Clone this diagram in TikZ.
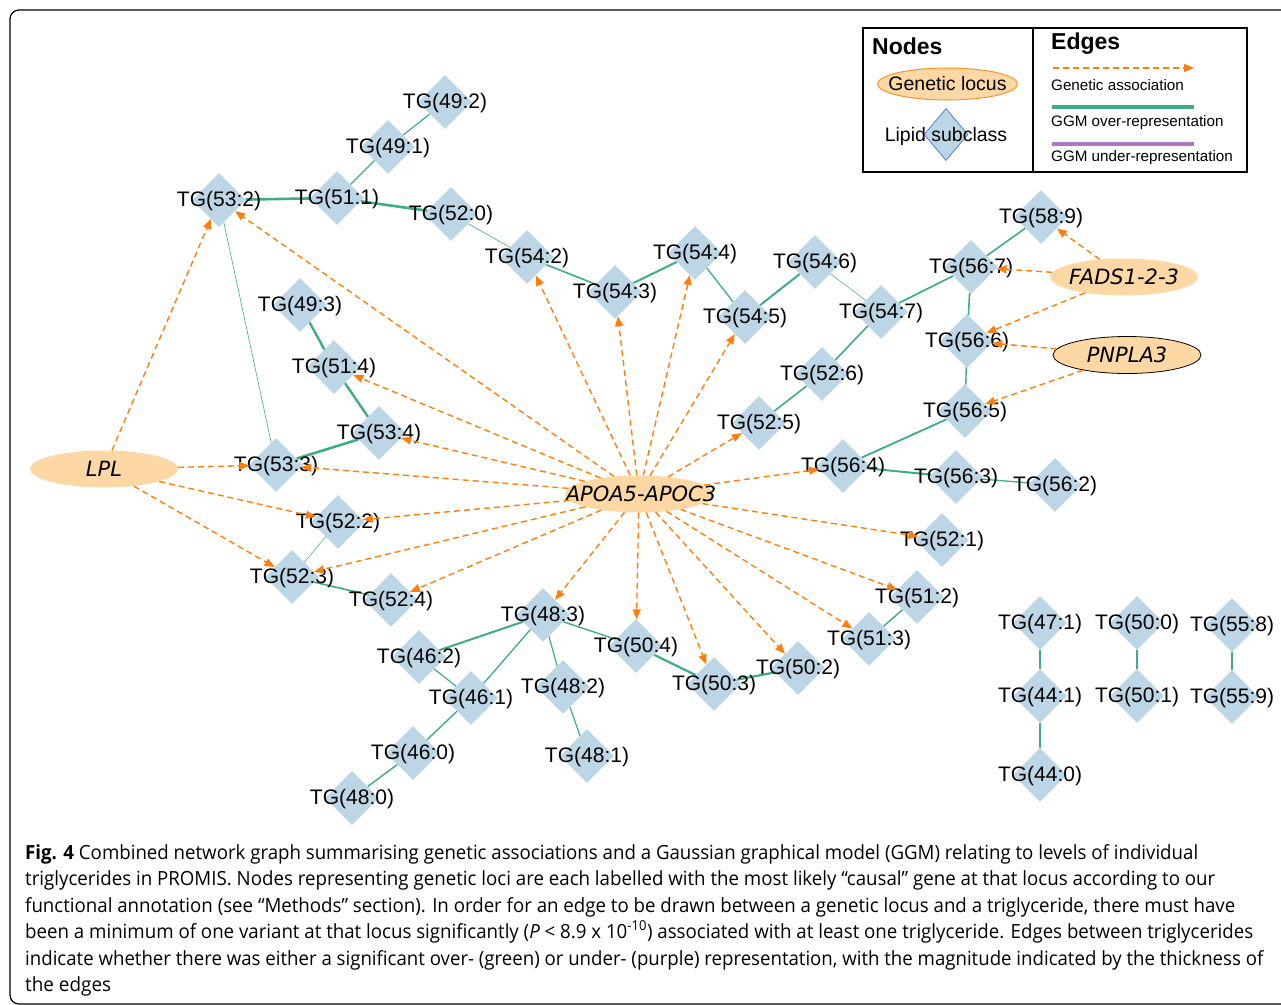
\documentclass[tikz,border=0pt]{standalone}
\usepackage{fontspec}
\usepackage{graphicx}
\setmainfont{Liberation Sans}
\newfontfamily\locfont{DejaVu Sans}
\newfontfamily\capfont{Open Sans}
\usetikzlibrary{shapes.geometric,arrows.meta}
\definecolor{tgblue}{RGB}{189,214,230}
\definecolor{locorange}{RGB}{253,216,165}
\definecolor{assocorange}{RGB}{255,127,14}
\definecolor{ggmgreen}{RGB}{64,171,135}
\definecolor{ggmpurple}{RGB}{175,120,190}
\definecolor{legendblue}{RGB}{80,130,210}
\definecolor{legorange}{RGB}{245,150,50}
\tikzset{
  tg/.style={shape=diamond, fill=tgblue, minimum width=54pt, minimum height=54pt, inner sep=0pt, draw=none},
  tglbl/.style={font=\fontsize{21}{21}\selectfont, inner sep=0pt, yshift=-1.5pt},
  locus/.style={ellipse, fill=locorange, minimum width=148pt, minimum height=37pt, inner sep=0pt},
  loclbl/.style={font=\locfont\itshape\fontsize{21}{21}\selectfont, inner sep=0pt},
  assoc/.style={draw=assocorange, line width=1.4pt, dash pattern=on 6pt off 4pt, -{Triangle[length=10pt,width=8pt]}},
  ggm/.style={draw=ggmgreen},
  captxt/.style={font=\capfont\fontsize{19.5}{19.5}\selectfont, inner sep=0pt, anchor=base west},
  legtxt/.style={font=\fontsize{15.2}{15.2}\selectfont, inner sep=0pt, anchor=west},
  leghead/.style={font=\bfseries\fontsize{23}{23}\selectfont, inner sep=0pt, anchor=west}
}
\begin{document}
\begin{tikzpicture}[x=1pt,y=-1pt]
\useasboundingbox (0,0) rectangle (1281,1004);
\draw[line width=1.2pt, rounded corners=9pt] (10,10) rectangle (1300,1004);

% lipid nodes
\foreach \n/\x/\y in {492/445/102, 491/388/147, 511/337/198, 532/219/200, 520/451/214,
  542/527/257, 543/615/292, 544/695/253, 545/745/317, 546/815/262, 547/881/312,
  567/971/267, 589/1041/217, 566/967/341, 565/965/411, 526/822/374, 525/759/423,
  564/843/466, 563/956/477, 562/1055/485, 521/942/540, 512/917/597, 513/869/639,
  502/798/668, 503/714/684, 504/636/646, 483/543/615, 482/563/687, 481/587/756,
  462/419/657, 461/471/698, 460/413/753, 480/352/798, 524/391/600, 523/292/577,
  522/338/522, 533/276/465, 534/379/433, 514/334/367, 493/300/305,
  471/1040/623, 441/1040/696, 440/1040/775, 500/1137/623, 501/1137/696,
  558/1232/625, 559/1232/697}
  {\node[tg] (t\n) at (\x,\y) {};}

% genetic loci
\node[locus] (lpl) at (104,469) {};
\node[locus] (apo) at (639,494) {};
\node[locus] (fads) at (1124,277) {};
\node[locus, draw=black, line width=0.8pt] (pnp) at (1127,355) {};

% GGM edges
\foreach \a/\b/\w in {492/491/1.2, 491/511/1.4, 511/532/2.6, 511/520/2.6, 520/542/0.6,
  542/543/1.6, 543/544/2.0, 544/545/1.3, 545/546/2.0, 546/547/0.5, 547/567/1.6,
  567/589/1.6, 567/566/1.6, 566/565/1.4, 565/564/1.8, 564/563/2.0, 563/562/1.3,
  547/526/1.6, 526/525/1.6, 532/533/0.6, 493/514/2.4, 514/534/2.4, 534/533/2.6,
  522/523/0.5, 523/524/1.6, 483/462/2.0, 483/461/1.3, 483/482/1.2, 483/504/1.4,
  462/461/1.2, 461/460/1.4, 460/480/1.4, 482/481/1.2, 504/503/2.2, 503/502/2.2,
  512/513/1.4, 471/441/2.2, 441/440/2.2, 500/501/1.6, 558/559/2.6}
  {\draw[ggm, line width=\w pt] (t\a) -- (t\b);}

% labels
\foreach \n/\t in {492/49:2, 491/49:1, 511/51:1, 532/53:2, 520/52:0, 542/54:2, 543/54:3,
  544/54:4, 545/54:5, 546/54:6, 547/54:7, 567/56:7, 589/58:9, 566/56:6, 565/56:5,
  526/52:6, 525/52:5, 564/56:4, 563/56:3, 562/56:2, 521/52:1, 512/51:2, 513/51:3,
  502/50:2, 503/50:3, 504/50:4, 483/48:3, 482/48:2, 481/48:1, 462/46:2, 461/46:1,
  460/46:0, 480/48:0, 524/52:4, 523/52:3, 522/52:2, 533/53:3, 534/53:4, 514/51:4,
  493/49:3, 471/47:1, 441/44:1, 440/44:0, 500/50:0, 501/50:1, 558/55:8, 559/55:9}
  {\node[tglbl] (l\n) at (t\n) {TG(\t)};}

\node[loclbl] (lplT) at (lpl) {LPL};
\node[loclbl] (apoT) at (641,494) {APOA5-APOC3};
\node[loclbl] (fadsT) at (fads) {FADS1-2-3};
\node[loclbl] (pnpT) at (pnp) {PNPLA3};

% genetic associations
\foreach \b in {532,533,522,523} {\draw[assoc] (lpl) -- (t\b);}
\foreach \b in {532,514,534,533,522,523,524,483,504,503,502,513,512,521,564,525,545,544,543,542}
  {\draw[assoc] (apo) -- (t\b);}
\foreach \b in {589,567,566} {\draw[assoc] (fads) -- (t\b);}
\foreach \b in {566,565} {\draw[assoc] (pnp) -- (t\b);}

% legend
\draw[line width=1.2pt] (863,28) rectangle (1247,172);
\draw[line width=1.2pt] (1033,28) -- (1033,172);
\node[leghead] (nodesT) at (872,46) {Nodes};
\node[locus, draw=legorange, line width=1pt, minimum width=140pt, minimum height=32pt] (legloc) at (947.5,84) {};
\node[font=\fontsize{19.5}{19.5}\selectfont, inner sep=0pt] (leglocT) at (legloc) {Genetic locus};
\node[shape=diamond, fill=tgblue, draw=legendblue, line width=0.8pt, minimum width=44pt, minimum height=52pt, inner sep=0pt] (legdia) at (946,134.5) {};
\node[font=\fontsize{19.5}{19.5}\selectfont, inner sep=0pt] (legdiaT) at (946,136) {Lipid subclass};
\node[leghead] (edgesT) at (1051,44) {Edges};
\coordinate (ga1) at (1053,68);
\coordinate (ga2) at (1194,68);
\draw[assoc] (ga1) -- (ga2);
\node[legtxt] (gaT) at (1051,85) {Genetic association};
\coordinate (go1) at (1052,107);
\coordinate (go2) at (1194,107);
\draw[ggm, line width=3.4pt] (go1) -- (go2);
\node[legtxt] (goT) at (1051,123) {GGM over-representation};
\coordinate (gu1) at (1052,144);
\coordinate (gu2) at (1194,144);
\draw[draw=ggmpurple, line width=3.4pt] (gu1) -- (gu2);
\node[legtxt] (guT) at (1051,158) {GGM under-representation};

% caption
\node[captxt] (c1) at (25,859) {\resizebox{1173pt}{\height}{\textbf{Fig. 4} Combined network graph summarising genetic associations and a Gaussian graphical model (GGM) relating to levels of individual}};
\node[captxt] (c2) at (25,885.5) {\resizebox{1190pt}{\height}{triglycerides in PROMIS. Nodes representing genetic loci are each labelled with the most likely “causal” gene at that locus according to our}};
\node[captxt] (c3) at (25,912) {\resizebox{1210pt}{\height}{functional annotation (see “Methods” section). In order for an edge to be drawn between a genetic locus and a triglyceride, there must have}};
\node[captxt] (c4) at (25,938.5) {\resizebox{1228pt}{\height}{been a minimum of one variant at that locus significantly (\textit{P} < 8.9 x 10\textsuperscript{-10}) associated with at least one triglyceride. Edges between triglycerides}};
\node[captxt] (c5) at (25,965) {\resizebox{1238pt}{\height}{indicate whether there was either a significant over- (green) or under- (purple) representation, with the magnitude indicated by the thickness of}};
\node[captxt] (c6) at (25,991.5) {\resizebox{86pt}{\height}{the edges}};
\end{tikzpicture}
\end{document}
